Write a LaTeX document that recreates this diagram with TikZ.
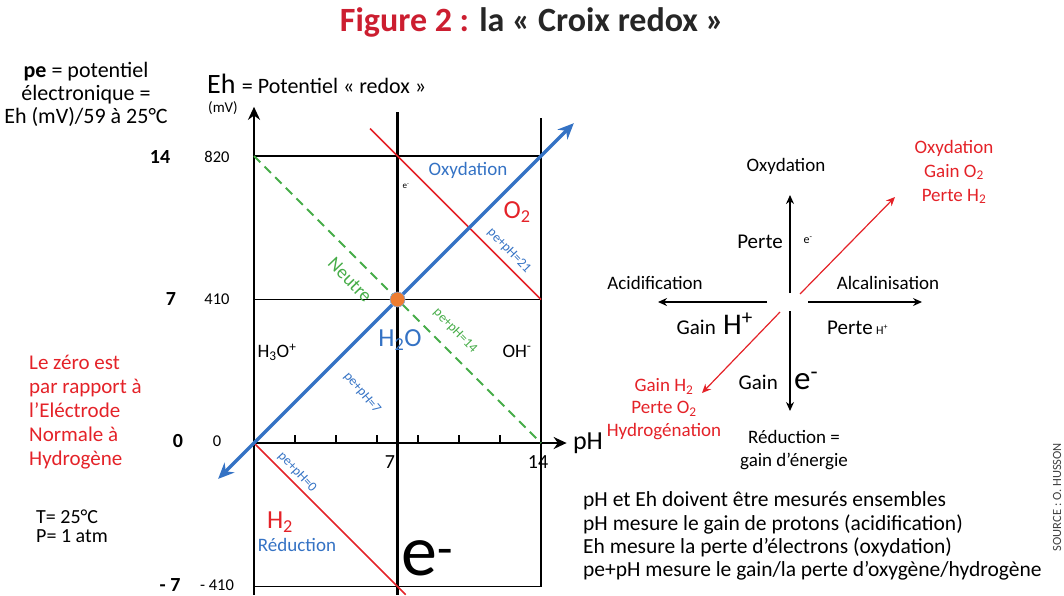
\documentclass[tikz,border=0pt]{standalone}
\usepackage{fontspec}
\setmainfont{Carlito}
\usetikzlibrary{arrows.meta}
\definecolor{redoxblue}{RGB}{52,114,196}
\definecolor{redoxred}{RGB}{228,34,40}
\definecolor{titlered}{RGB}{204,30,48}
\definecolor{redoxgreen}{RGB}{70,172,72}
\definecolor{dotorange}{RGB}{237,125,49}
\begin{document}
\begin{tikzpicture}[x=1pt,y=-1pt,
  lbl/.style={inner sep=0pt,font=\fontsize{21}{24}\selectfont},
  small/.style={inner sep=0pt,font=\fontsize{19}{23}\selectfont},
  ion/.style={inner sep=0pt,font=\fontsize{19}{22}\selectfont},
  tiny/.style={inner sep=0pt,font=\fontsize{13.5}{15}\selectfont},
  species/.style={inner sep=0pt,font=\fontsize{26}{30}\selectfont},
  thin grid/.style={line width=1.2pt},
  axis/.style={line width=2.6pt},
  redline/.style={line width=1.6pt,redoxred},
  cross/.style={line width=1.4pt,-{Stealth[length=9pt,width=8pt]}}]
 \useasboundingbox (0,0) rectangle (1064,595);
 \node[inner sep=0pt,font=\fontsize{34}{40}\selectfont\bfseries] (title) at (532,22)
   {\textcolor{titlered}{Figure 2 :} \textcolor{black!85}{la « Croix redox »}};
 % the redox cross, in units of pe and pH
 \begin{scope}[shift={(254,443)},x=20.5pt,y=20.5pt]
  \draw[thin grid] (0,14)--(14,14) (0,7)--(14,7) (0,-7)--(14,-7) (14,15.85)--(14,-7);
  \draw[axis,-{Stealth[length=13pt,width=12pt]}] (0,-7.4)--(0,16.4);
  \draw[axis,-{Stealth[length=13pt,width=12pt]}] (0,0)--(15.25,0);
  \draw[line width=3pt] (7,-7.4)--(7,16.15);
  \foreach \k in {2,4,6,8,10,12}{\draw[thin grid] (\k,0)--(\k,.4);}
  \draw[redoxgreen,line width=2pt,dash pattern=on 9pt off 6pt] (0,14)--(14,0);
  \draw[redline] (5.66,15.34)--(14,7);
  \draw[redline] (0,0)--(7.4,-7.4);
  \draw[redoxblue,line width=3.4pt,{Stealth[length=16pt,width=14pt]}-{Stealth[length=16pt,width=14pt]}]
    (-1.75,-1.75)--(15.6,15.6);
  \fill[dotorange,draw=redoxblue!60,line width=.6pt] (7,7) circle (7.5pt);
 \end{scope}
 % axis labels
 \node[inner sep=0pt,anchor=base west] (ehlabel) at (207,93)
   {\fontsize{28}{30}\selectfont Eh \fontsize{22}{24}\selectfont = Potentiel « redox »};
 \node[inner sep=0pt,font=\fontsize{15}{16}\selectfont] (mv) at (223,108) {(mV)};
 \node[inner sep=0pt,font=\fontsize{26}{28}\selectfont] (phlabel) at (588,443) {pH};
 \node[inner sep=0pt,font=\fontsize{20}{22}\selectfont] (seven) at (390,462) {7};
 \node[inner sep=0pt,font=\fontsize{20}{22}\selectfont] (fourteen) at (538,462) {14};
 \foreach \y/\x/\pe/\mv in {157/160/14/820,299/171/7/410,441/178/0/0,585/170/- 7/- 410}{
  \node[inner sep=0pt,font=\fontsize{20}{22}\selectfont\bfseries] at (\x,\y) {\pe};
  \node[inner sep=0pt,font=\fontsize{16.5}{18}\selectfont] at (217,\y) {\mv};
 }
 % labels inside the cross
 \node[inner sep=0pt,font=\fontsize{9}{10}\selectfont] (etop) at (406,186) {e\textsuperscript{-}};
 \node[small,redoxblue] (oxy) at (468,170) {Oxydation};
 \node[species,redoxred] (otwo) at (517,212) {O\textsubscript{2}};
 \node[tiny,redoxblue,rotate=-46] (pe21) at (509,251) {pe+pH=21};
 \node[ion,redoxgreen,rotate=-46] (neutre) at (350,280) {Neutre};
 \node[tiny,redoxgreen,rotate=-46] (pe14) at (455,331) {pe+pH=14};
 \node[ion] (hthree) at (277,352) {H\textsubscript{3}O\textsuperscript{+}};
 \node[species,redoxblue] (water) at (400,340) {H\textsubscript{2}O};
 \node[ion] (oh) at (517,351) {OH\textsuperscript{-}};
 \node[tiny,redoxblue,rotate=-50] (pe7) at (362,393) {pe+pH=7};
 \node[tiny,redoxblue,rotate=-47] (pe0) at (297,472) {pe+pH=0};
 \node[species,redoxred] (htwo) at (280,522) {H\textsubscript{2}};
 \node[small,redoxblue] (red) at (297,545) {Réduction};
 \node[inner sep=0pt,anchor=base west,font=\fontsize{72}{80}\selectfont] (ebig) at (401,575)
   {e\textsuperscript{-}};
 % left notes
 \node[inner sep=0pt,align=center,font=\fontsize{22}{23}\selectfont] (penote) at (86,94)
   {\textbf{pe} = potentiel\\électronique =\\Eh (mV)/59 à 25°C};
 \node[lbl,redoxred,anchor=west,align=left] (zero) at (29,412)
   {Le zéro est\\par rapport à\\l’Eléctrode\\Normale à\\Hydrogène};
 \node[inner sep=0pt,font=\fontsize{20}{19.5}\selectfont,anchor=west,align=left] (tp) at (36,526)
   {T= 25°C\\P= 1 atm};
 % the small cross on the right
 \coordinate (c) at (790,302);
 \coordinate (cu) at (790,293); \coordinate (up) at (790,195);
 \coordinate (cd) at (790,311); \coordinate (dn) at (790,411);
 \coordinate (cl) at (767,302); \coordinate (lt) at (658,302);
 \coordinate (cr) at (808,302); \coordinate (rt) at (922,302);
 \coordinate (cne) at (800,294); \coordinate (ne) at (895,197);
 \coordinate (csw) at (780,312); \coordinate (sw) at (702,393);
 \draw[cross] (cu)--(up);
 \draw[cross] (cd)--(dn);
 \draw[cross] (cl)--(lt);
 \draw[cross] (cr)--(rt);
 \draw[cross,redoxred,line width=1.2pt] (cne)--(ne);
 \draw[cross,redoxred,line width=1.2pt] (csw)--(sw);
 \node[small] (oxtop) at (786,166) {Oxydation};
 \node[lbl] (perte) at (760,242) {Perte};
 \node[inner sep=0pt,font=\fontsize{12}{13}\selectfont] (eloss) at (808,240) {e\textsuperscript{-}};
 \node[small] (acid) at (655,283) {Acidification};
 \node[small] (alca) at (888,283) {Alcalinisation};
 \node[lbl,anchor=base east] (gainh) at (716,334) {Gain};
 \node[inner sep=0pt,anchor=base west,font=\fontsize{30}{32}\selectfont] (hplus) at (723,334) {H\textsuperscript{+}};
 \node[lbl,anchor=base west] (perteh) at (827,334) {Perte};
 \node[inner sep=0pt,anchor=base west,font=\fontsize{12}{13}\selectfont] (hsmall) at (876,334) {H\textsuperscript{+}};
 \node[lbl,anchor=base east] (gaine) at (778,389) {Gain};
 \node[inner sep=0pt,anchor=base west,font=\fontsize{33}{36}\selectfont] (egain) at (794,389) {e\textsuperscript{-}};
 \node[small,align=center] (reduc) at (794,450) {Réduction =\\gain d’énergie};
 \node[small,redoxred,align=center,font=\fontsize{19}{24}\selectfont] (oxred) at (954,172)
   {Oxydation\\Gain O\textsubscript{2}\\Perte H\textsubscript{2}};
 \node[small,redoxred,align=center,font=\fontsize{19}{22.5}\selectfont] (hydro) at (664,409)
   {Gain H\textsubscript{2}\\Perte O\textsubscript{2}\\Hydrogénation};
 % notes at the bottom
 \node[inner sep=0pt,anchor=west,align=left,font=\fontsize{21.5}{23.2}\selectfont] (notes) at (583,536)
   {pH et Eh doivent être mesurés ensembles\\pH mesure le gain de protons (acidification)\\
    Eh mesure la perte d’électrons (oxydation)\\pe+pH mesure le gain/la perte d’oxygène/hydrogène};
 \node[inner sep=0pt,rotate=90,black!75,font=\fontsize{12.5}{13}\selectfont] (source) at (1057,497)
   {SOURCE : O. HUSSON};
\end{tikzpicture}
\end{document}
